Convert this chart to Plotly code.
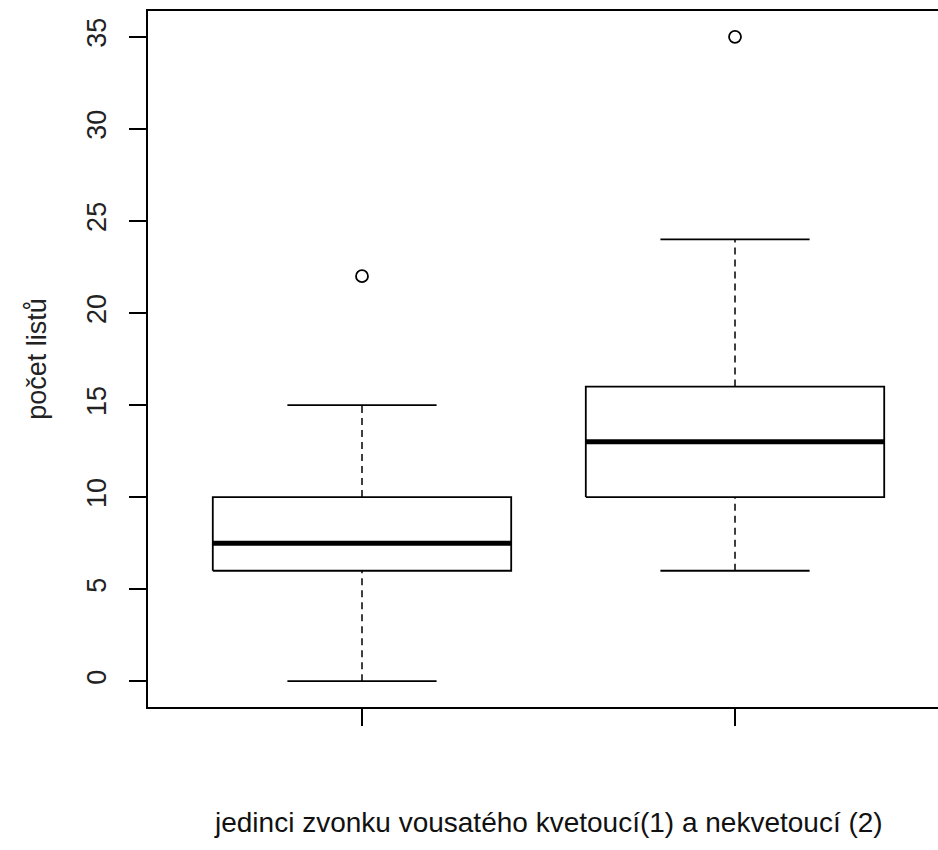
import plotly.graph_objects as go

# Five-number summaries per group (R boxplot style) and outliers
groups = [1, 2]
whisker_low = [0, 6]
q1 = [6, 10]
median = [7.5, 13]
q3 = [10, 16]
whisker_high = [15, 24]
outliers = [[22], [35]]

y_ticks = [0, 5, 10, 15, 20, 25, 30, 35]

BOX_HALF = 0.4
CAP_HALF = 0.2
FONT = "Liberation Sans, Arial, sans-serif"

fig = go.Figure()

for i, g in enumerate(groups):
    # box outline
    fig.add_trace(go.Scatter(
        x=[g - BOX_HALF, g + BOX_HALF, g + BOX_HALF, g - BOX_HALF, g - BOX_HALF],
        y=[q1[i], q1[i], q3[i], q3[i], q1[i]],
        mode="lines", line=dict(color="black", width=1.8),
        fill="toself", fillcolor="white", showlegend=False, hoverinfo="skip"))
    # median
    fig.add_trace(go.Scatter(
        x=[g - BOX_HALF, g + BOX_HALF], y=[median[i], median[i]],
        mode="lines", line=dict(color="black", width=5),
        showlegend=False, hoverinfo="skip"))
    # dashed whiskers
    for a, b in ((whisker_low[i], q1[i]), (q3[i], whisker_high[i])):
        fig.add_trace(go.Scatter(
            x=[g, g], y=[a, b], mode="lines",
            line=dict(color="black", width=1.5, dash="7px,5px"),
            showlegend=False, hoverinfo="skip"))
    # whisker caps
    for v in (whisker_low[i], whisker_high[i]):
        fig.add_trace(go.Scatter(
            x=[g - CAP_HALF, g + CAP_HALF], y=[v, v], mode="lines",
            line=dict(color="black", width=1.8),
            showlegend=False, hoverinfo="skip"))
    # outliers
    fig.add_trace(go.Scatter(
        x=[g] * len(outliers[i]), y=outliers[i], mode="markers",
        marker=dict(symbol="circle-open", size=12, color="black",
                    line=dict(width=1.8)),
        showlegend=False, hoverinfo="skip"))

fig.add_annotation(
    x=1.5, y=0, xref="x", yref="paper", yshift=-115,
    text="jedinci zvonku vousatého kvetoucí(1) a nekvetoucí (2)",
    showarrow=False, yanchor="middle",
    font=dict(family=FONT, size=28, color="#111"))

fig.update_layout(
    width=938, height=850,
    margin=dict(l=148, r=0, t=11, b=143),
    paper_bgcolor="white", plot_bgcolor="white",
    font=dict(family=FONT, color="#222"),
    xaxis=dict(
        range=[0.4263, 2.5442], tickvals=groups, ticktext=["", ""],
        showgrid=False, zeroline=False,
        showline=True, mirror=True, linecolor="black", linewidth=1.8,
        ticks="outside", ticklen=17, tickwidth=1.8, tickcolor="black"),
    yaxis=dict(
        range=[-1.4, 36.4], tickvals=y_ticks,
        showgrid=False, zeroline=False,
        showline=True, mirror=False, linecolor="black", linewidth=1.8,
        ticks="outside", ticklen=17, tickwidth=1.8, tickcolor="black",
        tickangle=-90, tickfont=dict(size=27), ticklabelstandoff=12,
        title=dict(text="počet listů", font=dict(size=27), standoff=28)),
)

fig.write_html("out.html")
